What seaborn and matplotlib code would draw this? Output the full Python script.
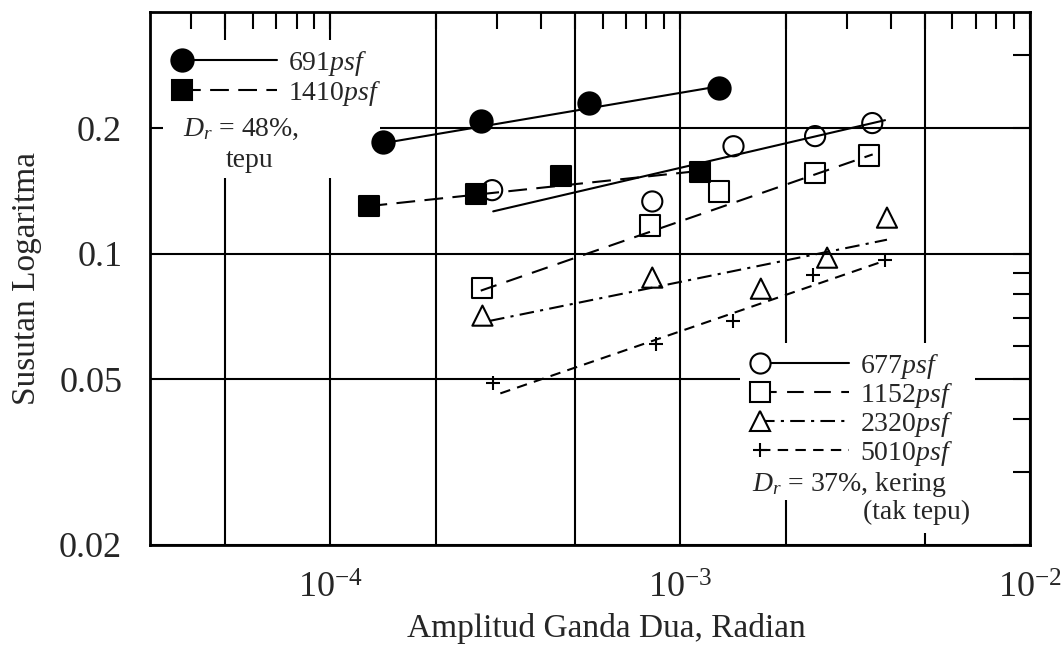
import numpy as np
import pandas as pd
import matplotlib
matplotlib.use("Agg")
import matplotlib.pyplot as plt
from matplotlib.lines import Line2D
from matplotlib.patches import Rectangle
from matplotlib.legend_handler import HandlerLine2D
from matplotlib.ticker import LogLocator, FuncFormatter, NullFormatter
import seaborn as sns

# values (x = double amplitude [rad], y = log decrement)
x_691 = [1.41e-4, 2.70e-4, 5.5e-4, 1.29e-3]
y_691 = [0.185, 0.208, 0.230, 0.250]
fit_x_691 = [1.41e-4, 1.29e-3]
fit_y_691 = [0.184, 0.252]

x_1410 = [1.285e-4, 2.60e-4, 4.57e-4, 1.14e-3]
y_1410 = [0.130, 0.1387, 0.1533, 0.1567]
fit_x_1410 = [1.285e-4, 1.14e-3]
fit_y_1410 = [0.130, 0.158]

x_677 = [2.90e-4, 8.32e-4, 1.42e-3, 2.43e-3, 3.54e-3]
y_677 = [0.142, 0.1334, 0.181, 0.1914, 0.2057]
fit_x_677 = [2.92e-4, 3.85e-3]
fit_y_677 = [0.1263, 0.209]

x_1152 = [2.72e-4, 8.2e-4, 1.29e-3, 2.43e-3, 3.47e-3]
y_1152 = [0.0828, 0.1168, 0.141, 0.156, 0.172]
fit_x_1152 = [2.69e-4, 3.55e-3]
fit_y_1152 = [0.0815, 0.173]

x_2320 = [2.72e-4, 8.32e-4, 1.70e-3, 2.63e-3, 3.90e-3]
y_2320 = [0.0710, 0.0876, 0.0824, 0.0978, 0.122]
fit_x_2320 = [2.86e-4, 3.90e-3]
fit_y_2320 = [0.069, 0.108]

x_5010 = [2.92e-4, 8.5e-4, 1.42e-3, 2.40e-3, 3.85e-3]
y_5010 = [0.0489, 0.0607, 0.069, 0.089, 0.0967]
fit_x_5010 = [3.06e-4, 3.85e-3]
fit_y_5010 = [0.0462, 0.0962]

labels = ["691", "1410", "677", "1152", "2320", "5010"]

sns.set_style("white")
plt.rcParams["font.family"] = ["Liberation Serif", "DejaVu Serif"]
plt.rcParams["mathtext.fontset"] = "custom"
plt.rcParams["mathtext.rm"] = "Liberation Serif"
plt.rcParams["mathtext.it"] = "Liberation Serif:italic"

K = "black"
LW = 1.5
series = [
    # x, y, fit x, fit y, marker, face, size, linestyle
    (x_691, y_691, fit_x_691, fit_y_691, "o", K, 16, "-"),
    (x_1410, y_1410, fit_x_1410, fit_y_1410, "s", K, 15, (0, (9, 4.5))),
    (x_677, y_677, fit_x_677, fit_y_677, "o", "none", 14.5, "-"),
    (x_1152, y_1152, fit_x_1152, fit_y_1152, "s", "none", 14.5, (0, (8, 5))),
    (x_2320, y_2320, fit_x_2320, fit_y_2320, "^", "none", 14.5, (0, (7, 3, 1.5, 3))),
    (x_5010, y_5010, fit_x_5010, fit_y_5010, "+", K, 10, (0, (5, 3.5))),
]

fig = plt.figure(figsize=(10.61, 6.47), dpi=100)
ax = fig.add_axes([0.1414, 0.1577, 0.8294, 0.8238])
ax.set_xscale("log")
ax.set_yscale("log")

for xs, ys, fx, fy, m, face, size, ls in series:
    sns.lineplot(x=fx, y=fy, ax=ax, color=K, lw=LW, linestyle=ls, zorder=3)
    if m == "+":
        sns.scatterplot(x=xs, y=ys, ax=ax, marker=m, s=size ** 2, color=K,
                        linewidth=LW, zorder=4, legend=False)
    else:
        sns.scatterplot(x=xs, y=ys, ax=ax, marker=m, s=size ** 2, facecolor=face,
                        edgecolor=K, linewidth=LW, zorder=4, legend=False)

ax.set_xlim(3.05e-5, 1e-2)
ax.set_ylim(0.02, 0.38)

# ticks: grid on 1-2-5, short inward ticks elsewhere
ax.xaxis.set_major_locator(LogLocator(base=10, subs=(1.0, 2.0, 5.0), numticks=20))
ax.xaxis.set_minor_locator(LogLocator(base=10, subs=(3, 4, 6, 7, 8, 9), numticks=20))
ax.yaxis.set_major_locator(LogLocator(base=10, subs=(1.0, 2.0, 5.0), numticks=20))
ax.yaxis.set_minor_locator(LogLocator(base=10, subs=(3, 4, 6, 7, 8, 9), numticks=20))


def xfmt(v, pos):
    e = np.log10(v)
    if abs(e - round(e)) < 1e-6:
        return r"$\mathregular{10^{%d}}$" % int(round(e))
    return ""


ax.xaxis.set_major_formatter(FuncFormatter(xfmt))
ax.yaxis.set_major_formatter(FuncFormatter(lambda v, p: f"{v:g}"))
ax.xaxis.set_minor_formatter(NullFormatter())
ax.yaxis.set_minor_formatter(NullFormatter())
ax.tick_params(which="both", direction="in", top=True, right=True, color=K,
               width=1.5, length=12, labelsize=26)
ax.tick_params(axis="y", which="major", pad=20)
ax.tick_params(axis="x", which="major", pad=20)
ax.grid(True, which="major", color=K, lw=1.5)
ax.set_axisbelow(True)
for sp in ax.spines.values():
    sp.set_linewidth(2)
    sp.set_color(K)

ax.set_xlabel("Amplitud Ganda Dua, Radian", fontsize=24)
ax.set_ylabel("Susutan Logaritma", fontsize=24, labelpad=12)
ax.xaxis.set_label_coords(0.519, -0.127)

# white masks behind the annotation blocks
for (rx, ry, rw, rh) in [(0.015, 0.689, 0.246, 0.259),
                         (0.670, 0.0844, 0.267, 0.2946),
                         (0.801, 0.0225, 0.136, 0.062)]:
    ax.add_patch(Rectangle((rx, ry), rw, rh, transform=ax.transAxes,
                           fc="white", ec="none", zorder=1))


class LeftMarker(HandlerLine2D):
    def create_artists(self, legend, orig_handle, xdescent, ydescent, width,
                       height, fontsize, trans):
        arts = super().create_artists(legend, orig_handle, xdescent, ydescent,
                                      width, height, fontsize, trans)
        for a in arts:
            a.set_markevery([0])
        return arts


def handle(i):
    xs, ys, fx, fy, m, face, size, ls = series[i]
    mf = "white" if face == "none" else K
    return Line2D([], [], color=K, lw=LW, linestyle=ls, marker=m,
                  markersize=size, markerfacecolor=mf, markeredgecolor=K,
                  markeredgewidth=LW)


leg_kw = dict(fontsize=20, frameon=False, numpoints=1, borderpad=0.3,
              labelspacing=0.0, handletextpad=0.4,
              handler_map={Line2D: LeftMarker()})
leg1 = ax.legend([handle(0), handle(1)],
                 [labels[0] + r"$\it{psf}$", labels[1] + r"$\it{psf}$"],
                 loc="upper left", bbox_to_anchor=(0.027, 0.947),
                 borderaxespad=0, handlelength=3.4, labelspacing=0.05,
                 **{k: v for k, v in leg_kw.items() if k != "labelspacing"})
leg1.set_zorder(5)
ax.add_artist(leg1)
leg2 = ax.legend([handle(i) for i in range(2, 6)],
                 [lab + r"$\it{psf}$" for lab in labels[2:]],
                 loc="upper left", bbox_to_anchor=(0.684, 0.378),
                 borderaxespad=0, handlelength=3.2, **leg_kw)
leg2.set_zorder(5)

ax.text(0.0375, 0.779, r"$D_r$ = 48%,", transform=ax.transAxes, fontsize=20,
        ha="left", va="center", zorder=5)
ax.text(0.1136, 0.722, "tepu", transform=ax.transAxes, fontsize=20,
        ha="center", va="center", zorder=5)
ax.text(0.684, 0.1126, r"$D_r$ = 37%, kering", transform=ax.transAxes,
        fontsize=20, ha="left", va="center", zorder=5)
ax.text(0.8716, 0.062, "(tak tepu)", transform=ax.transAxes, fontsize=20,
        ha="center", va="center", zorder=5)

fig.savefig("out.png", dpi=100)
